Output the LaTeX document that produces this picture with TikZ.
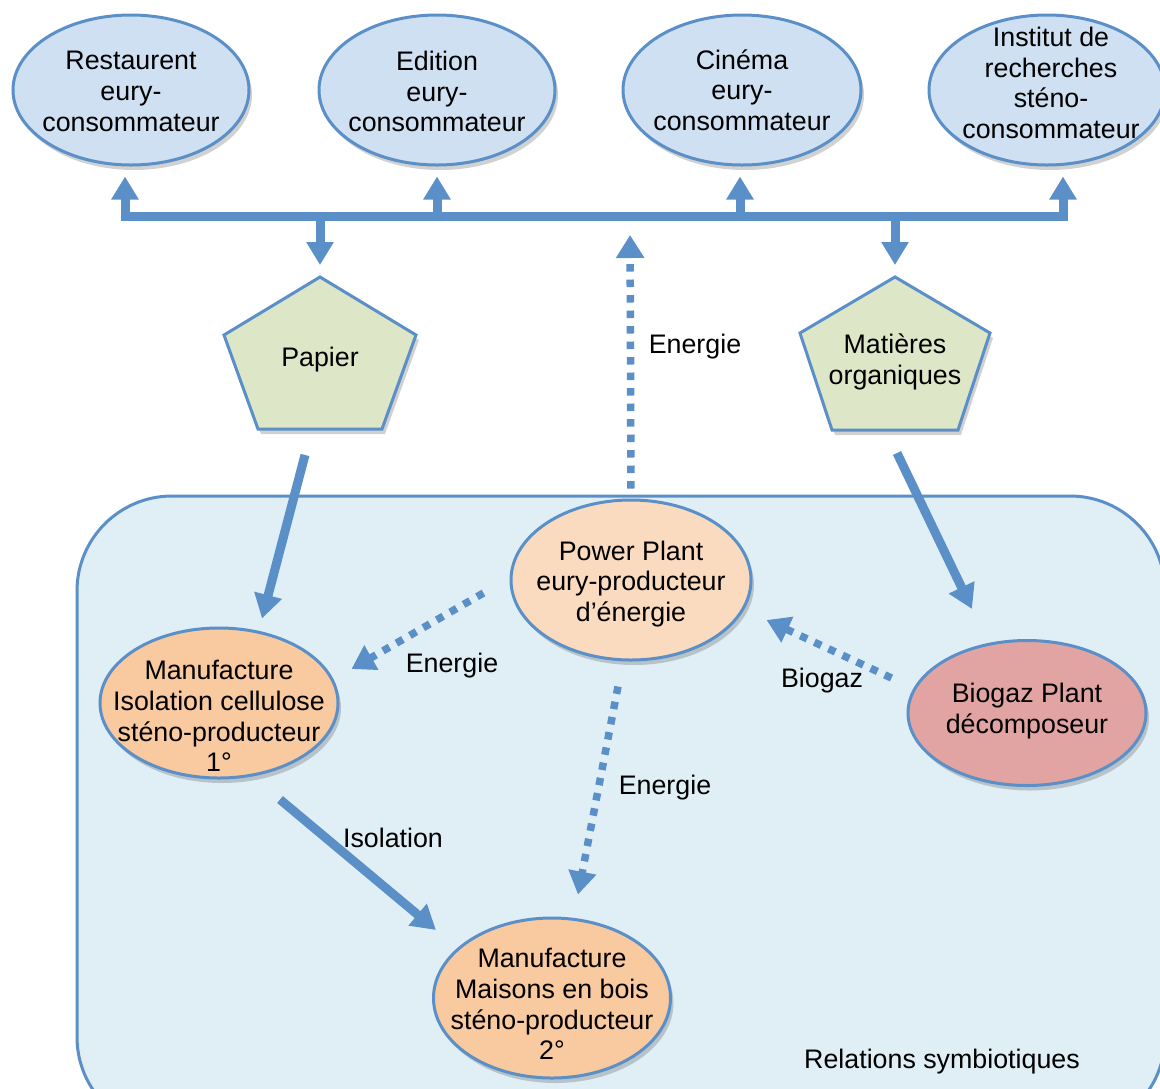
\documentclass[tikz,border=0pt]{standalone}
\usepackage{fontspec}
\setmainfont{Liberation Sans}
\usetikzlibrary{arrows.meta,shadows,calc,shapes.geometric}

\definecolor{lineblue}{HTML}{5B8FC7}
\definecolor{consfill}{HTML}{CFE0F2}
\definecolor{boxfill}{HTML}{E0EFF5}
\definecolor{pentfill}{HTML}{DEE6C8}
\definecolor{powerfill}{HTML}{FADBBF}
\definecolor{manufill}{HTML}{F9C9A0}
\definecolor{biofill}{HTML}{E1A4A3}

\tikzset{
  txt/.style={font=\fontsize{26.8}{30.6}\selectfont, align=center, inner sep=0pt},
  soft/.style={drop shadow={shadow xshift=3pt, shadow yshift=-5pt, fill=black, opacity=0.18}},
  actor/.style={ellipse, draw=lineblue, line width=3pt, inner sep=0pt, soft},
  busline/.style={draw=lineblue, line width=9pt},
  busarrow/.style={draw=lineblue, line width=9pt, -{Triangle[width=26pt,length=23pt]}},
  solidarrow/.style={draw=lineblue, line width=9pt, -{Triangle[width=27pt,length=24pt]}},
  dotarrow/.style={draw=lineblue, line width=7.5pt, dash pattern=on 7.5pt off 8pt, -{Triangle[width=27pt,length=23pt]}},
  pentagon/.style={draw=lineblue, line width=3pt, fill=pentfill, soft},
  lbl/.style={txt}
}

\begin{document}
\begin{tikzpicture}[x=1pt,y=-1pt]
\useasboundingbox (0,0) rectangle (1160,1088);
\clip (0,0) rectangle (1160,1088);

% symbiotic area
\draw[draw=lineblue, line width=3pt, fill=boxfill, rounded corners=95pt] (77,496) rectangle (1165,1132);
\node[lbl] (rel) at (942,1062) {Relations symbiotiques};

% consumers
\node[actor, fill=consfill, minimum width=236pt, minimum height=150pt, label={[txt, yshift=-1.5pt]center:Restaurent\\eury-\\consommateur}] (rest) at (131,90) {};
\node[actor, fill=consfill, minimum width=236pt, minimum height=150pt, label={[txt, yshift=-1.5pt]center:Edition\\eury-\\consommateur}] (edit) at (437,90) {};
\node[actor, fill=consfill, minimum width=238pt, minimum height=150pt, label={[txt]center:Cinéma\\eury-\\consommateur}] (cine) at (742,90) {};
\node[actor, fill=consfill, minimum width=236pt, minimum height=150pt] (inst) at (1047,90) {};
\node[txt] (instlbl) at (1051,83) {Institut de\\recherches\\sténo-\\consommateur};

% distribution bus
\coordinate (b1) at (125,216);
\coordinate (b2) at (437,216);
\coordinate (b3) at (740,216);
\coordinate (b4) at (1063,216);
\coordinate (bd1) at (320,216);
\coordinate (bd2) at (895,216);
\coordinate (be) at (630,216);
\draw[busline] ($(b1)+(-4.5,0)$) -- ($(b4)+(4.5,0)$);
\draw[busarrow, shorten >=10pt] ($(b1)+(0,4)$) -- (b1 |- rest.south);
\draw[busarrow, shorten >=10pt] ($(b2)+(0,4)$) -- (b2 |- edit.south);
\draw[busarrow, shorten >=10pt] ($(b3)+(0,4)$) -- (b3 |- cine.south);
\draw[busarrow, shorten >=10pt] ($(b4)+(0,4)$) -- (b4 |- inst.south);

% resources
\coordinate (paptop) at (320,277);
\coordinate (mattop) at (895,277);
\draw[pentagon] (paptop) -- ++(96,58) -- ++(-34,94) -- ++(-124,0) -- ++(-34,-94) -- cycle;
\draw[pentagon] (mattop) -- ++(95,56) -- ++(-32,97) -- ++(-126,0) -- ++(-32,-97) -- cycle;
\node[txt] (pap) at (320,360) {Papier};
\node[txt] (mat) at (895,362) {Matières\\organiques};
\coordinate (papbot) at (320,429);
\coordinate (matbot) at (895,430);
\draw[busarrow, shorten >=12pt] ($(bd1)+(0,-4)$) -- (paptop);
\draw[busarrow, shorten >=12pt] ($(bd2)+(0,-4)$) -- (mattop);

% producers and decomposer
\node[actor, fill=powerfill, minimum width=240pt, minimum height=160pt, label={[txt, yshift=-4pt]center:Power Plant\\eury-producteur\\d’énergie}] (pp) at (631,580) {};
\node[actor, fill=manufill, minimum width=238pt, minimum height=150pt, label={[txt, yshift=-13pt]center:Manufacture\\Isolation cellulose\\sténo-producteur\\1°}] (m1) at (219,703) {};
\node[actor, fill=biofill, minimum width=238pt, minimum height=145pt, label={[txt, yshift=2pt]center:Biogaz Plant\\décomposeur}] (bg) at (1027,713) {};
\node[actor, fill=manufill, minimum width=237pt, minimum height=160pt, label={[txt, yshift=-6pt]center:Manufacture\\Maisons en bois\\sténo-producteur\\2°}] (m2) at (552,998) {};

% flows
\draw[dotarrow, shorten <=10pt, shorten >=19pt] (pp.north) -- (be);
\node[lbl] (e0) at (695,347) {Energie};

\draw[solidarrow] ($(papbot)+(-15,26)$) -- ($(m1.north)+(43,-8)$);
\draw[solidarrow] ($(matbot)+(2,23)$) -- ($(bg.north)+(-55,-30)$);

\draw[dotarrow] ($(pp.west)+(-26,13)$) -- ($(m1.east)+(12,-34)$);
\node[lbl] (e1) at (452,666) {Energie};

\draw[dotarrow] ($(bg.west)+(-15,-35)$) -- ($(pp.east)+(14,40)$);
\node[lbl] (bio) at (822,681) {Biogaz};

\draw[dotarrow] ($(pp.south)+(-13,25)$) -- ($(m2.north)+(26,-22)$);
\node[lbl] (e2) at (665,788) {Energie};

\draw[solidarrow] ($(m1.south)+(61,20)$) -- ($(m2.west)+(4,-68)$);
\node[lbl] (iso) at (393,838) {Isolation};
\end{tikzpicture}
\end{document}
